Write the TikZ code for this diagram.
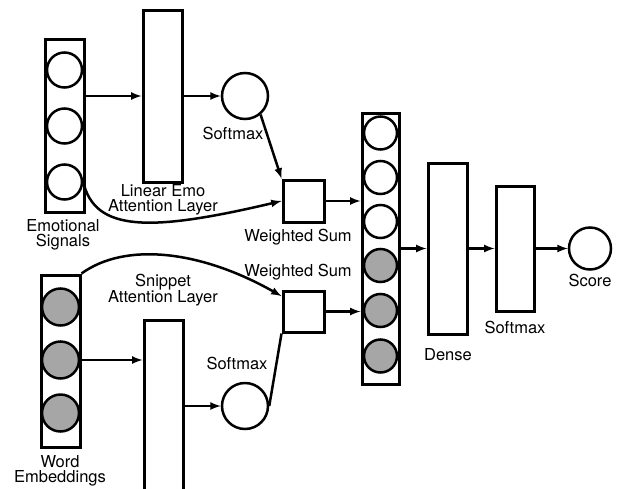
\documentclass[tikz,border=0pt]{standalone}
\usepackage{fontspec}
\setmainfont{TeX Gyre Heros}
\usepackage{tikz}
\usetikzlibrary{calc}
\definecolor{embgray}{RGB}{166,166,166}

\begin{document}
\begin{tikzpicture}[x=1pt,y=-1pt,>=latex,line width=2.5pt,
    layer/.style={draw,rectangle,minimum width=39pt,inner sep=0pt,line width=3pt},
    unit/.style={draw,circle,inner sep=0pt},
    lbl/.style={align=center,font=\fontsize{16.5}{15.5}\selectfont,inner sep=0pt}]
        \clip (0,0) rectangle (619,488);
        % emotional signals
        \node[layer,minimum height=173pt] (emo) at (64.5,125.5) {};
        \node[unit,minimum size=35pt] (e1) at (64.5,70) {};
        \node[unit,minimum size=35pt] (e2) at (64.5,126) {};
        \node[unit,minimum size=35pt] (e3) at (64.5,182) {};
        \node[lbl] (emolbl) at (63,235) {Emotional\\Signals};
        \node[layer,minimum height=172pt] (lin) at (162.5,96) {};
        \node[lbl] (linlbl) at (163,200) {Linear Emo\\Attention Layer};
        \node[unit,minimum size=46pt] (smA) at (245,96) {};
        \node[lbl] (smAlbl) at (233,133) {Softmax};
        \node[layer,minimum width=41pt,minimum height=42pt] (wsA) at (303.5,201) {};
        \node[lbl] (wsAlbl) at (298,237) {Weighted Sum};
        % word embeddings
        \node[layer,minimum height=172pt] (word) at (60.5,361) {};
        \node[unit,minimum size=37pt,fill=embgray] (w1) at (60.5,307) {};
        \node[unit,minimum size=37pt,fill=embgray] (w2) at (60.5,360) {};
        \node[unit,minimum size=37pt,fill=embgray] (w3) at (60.5,413) {};
        \node[lbl] (wordlbl) at (60,471) {Word\\Embeddings};
        \node[layer,minimum height=190pt,anchor=north] (snip) at (163.5,319) {};
        \node[lbl] (sniplbl) at (163,290) {Snippet\\Attention Layer};
        \node[unit,minimum size=46pt] (smB) at (245,406) {};
        \node[lbl] (smBlbl) at (237,363) {Softmax};
        \node[layer,minimum width=41pt,minimum height=41pt] (wsB) at (303.5,311.5) {};
        \node[lbl] (wsBlbl) at (298,272) {Weighted Sum};
        % concatenation and output
        \node[layer,minimum width=37pt,minimum height=271pt] (col) at (380.5,248.5) {};
        \node[unit,minimum size=33pt] (c1) at (380.5,133) {};
        \node[unit,minimum size=33pt] (c2) at (380.5,177.5) {};
        \node[unit,minimum size=33pt] (c3) at (380.5,221.5) {};
        \node[unit,minimum size=33pt,fill=embgray] (c4) at (380.5,265.5) {};
        \node[unit,minimum size=33pt,fill=embgray] (c5) at (380.5,310.5) {};
        \node[unit,minimum size=33pt,fill=embgray] (c6) at (380.5,356) {};
        \node[layer,minimum height=171pt] (dense) at (447.5,248.5) {};
        \node[lbl] (denselbl) at (448,355) {Dense};
        \node[layer,minimum width=38pt,minimum height=125pt] (smC) at (515,248.5) {};
        \node[lbl] (smClbl) at (515,327) {Softmax};
        \node[unit,minimum size=42pt] (score) at (590,248.5) {};
        \node[lbl] (scorelbl) at (590,280) {Score};
        % connectors
        \draw[->] (emo.east |- lin.west) -- (lin.west);
        \draw[->] (lin.east) -- (smA.west);
        \draw[->] (smA.-50) -- (wsA.north west);
        \draw[->] (e3.east) .. controls (95,232) and (150,232) .. (wsA.west);
        \draw[->] (wsA.east) -- (wsA.east -| col.west);
        \draw[->] (w2.east) -- (w2.east -| snip.west);
        \draw[->] (smB.west -| snip.east) -- (smB.west);
        \draw (smB.east) -- (wsB.south west);
        \draw[->] (word.north east) .. controls (125,242) and (200,250) .. (wsB.145);
        \draw[->] (wsB.east) -- (wsB.east -| col.west);
        \draw[->] (col.east |- dense.west) -- (dense.west);
        \draw[->] (dense.east |- smC.west) -- (smC.west);
        \draw[->] (smC.east) -- (score.west);
\end{tikzpicture}
\end{document}
